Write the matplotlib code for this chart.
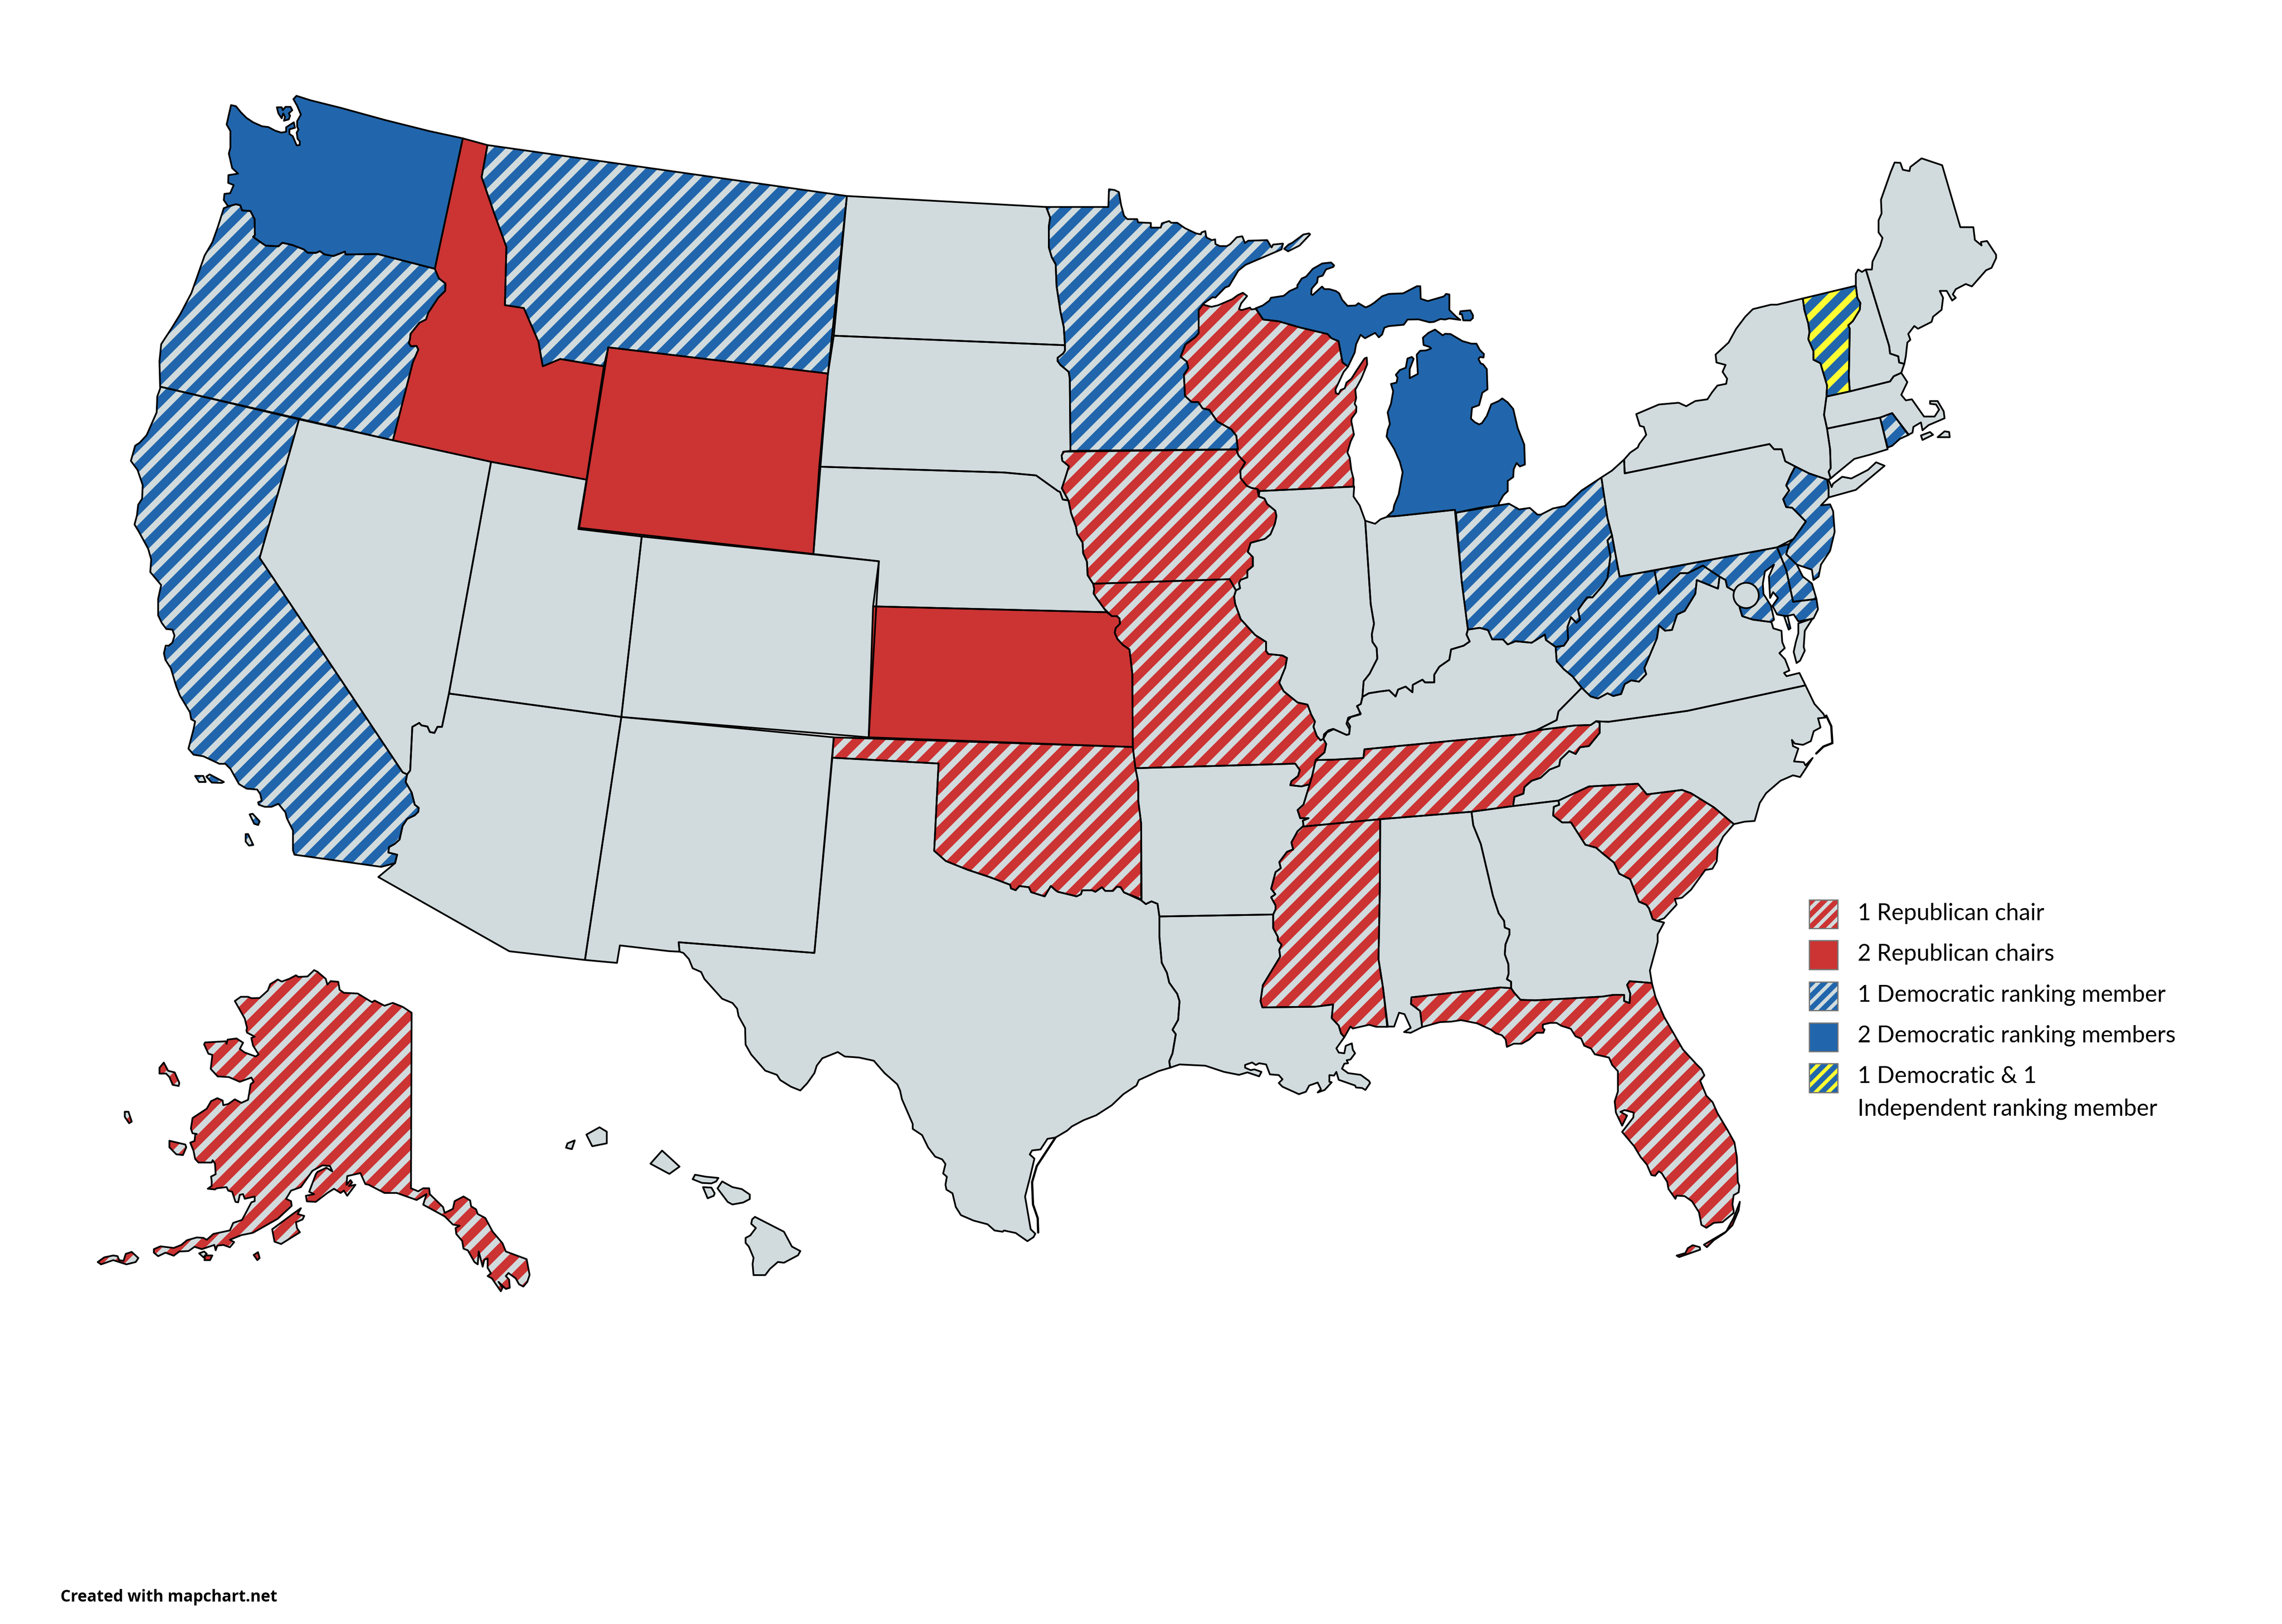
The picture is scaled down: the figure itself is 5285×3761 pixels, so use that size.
import matplotlib
matplotlib.use("Agg")
import matplotlib.pyplot as plt
from matplotlib.patches import Polygon, Circle, Rectangle

SCALE = 3.37
W, H = 5285, 3762
DPI = 300  # hatch pitch is dpi / 6 pixels with '//'

RED = '#CC3333'
BLUE = '#2166AC'
GRAY = '#D1DBDD'
YELLOW = '#FFFF33'


def from_crop(pts, x0, y0, w, h):
    return [((x0 + px * w / 1568) / SCALE, (y0 + py * h / 1568) / SCALE) for px, py in pts]

def ne(pts):
    return from_crop(pts, 3600, 300, 1100, 1250)

def mi(pts):
    return from_crop(pts, 2900, 550, 800, 700)

def ak(pts):
    return from_crop(pts, 100, 2200, 1200, 850)

def nw(pts):
    return from_crop(pts, 280, 200, 800, 800)

def sw(pts):
    return from_crop(pts, 280, 900, 1100, 1100)

def gulf(pts):
    return from_crop(pts, 1550, 2050, 1700, 900)

def fla(pts):
    return from_crop(pts, 3200, 2150, 900, 900)

def se(pts):
    return from_crop(pts, 3000, 1350, 1300, 900)

def mid(pts):
    return from_crop(pts, 2450, 1000, 800, 1100)

def lakes(pts):
    return from_crop(pts, 2400, 400, 800, 700)


WA = nw([(500, 87), (522, 92), (545, 120), (570, 145), (600, 165), (640, 183), (670, 187), (700, 203), (728, 212), (750, 208), (750, 188), (785, 165),
         (790, 190), (765, 197), (765, 218), (780, 228), (798, 270), (812, 268), (812, 252), (802, 240), (798, 212), (806, 198), (800, 185), (800, 160),
         (817, 130), (800, 90), (783, 60), (797, 45), (860, 65), (1000, 100), (1200, 155), (1400, 205), (1552, 238), (1425, 830), (1165, 763), (1020, 765),
         (1017, 752), (965, 772), (925, 765), (903, 750), (885, 758), (848, 757), (830, 742), (778, 722), (733, 712), (715, 728), (657, 725), (625, 703),
         (600, 685), (608, 678), (607, 605), (588, 568), (550, 565), (542, 542), (522, 537), (487, 547), (467, 518), (470, 490), (496, 487), (512, 450),
         (487, 440), (488, 405), (532, 398), (505, 373), (490, 307), (497, 280), (497, 205), (480, 175)])
WA_ISLAND = nw([(708, 97), (730, 97), (735, 110), (747, 95), (770, 95), (778, 110), (762, 125), (768, 135), (762, 152), (740, 158), (745, 140), (737, 125),
                (730, 147), (715, 125)])
OR = nw([(467, 555), (487, 547), (522, 537), (542, 542), (550, 565), (588, 568), (607, 605), (608, 678), (600, 685), (625, 703), (657, 725), (715, 728),
         (733, 712), (778, 722), (830, 742), (848, 757), (885, 758), (903, 750), (925, 765), (965, 772), (1017, 752), (1020, 765), (1165, 763), (1425, 830),
         (1443, 873), (1473, 897), (1472, 930), (1440, 962), (1395, 1030), (1385, 1060), (1355, 1075), (1315, 1125), (1312, 1150), (1307, 1167), (1317, 1182),
         (1342, 1180), (1350, 1197), (1325, 1255)]) + sw([(898, 172)]) + \
     nw([(178, 1365), (175, 1250), (183, 1172), (230, 1100), (270, 1035), (320, 940), (380, 770), (415, 710), (440, 640)])
CA = nw([(178, 1365)]) + sw([(588, 103), (458, 560), (930, 1268), (945, 1275), (940, 1300), (960, 1335), (970, 1375), (983, 1385), (982, 1398), (970, 1410),
                             (945, 1422), (930, 1445), (920, 1490), (903, 1505), (885, 1515), (883, 1533), (912, 1540), (905, 1568)]) + [(262, 596)] + \
     sw([(573, 1540), (568, 1525), (568, 1460), (548, 1420), (543, 1400), (520, 1372), (497, 1382), (475, 1382), (455, 1375), (453, 1367), (465, 1362), (460, 1340),
         (450, 1325), (415, 1322), (390, 1307), (362, 1257), (345, 1240), (325, 1240), (272, 1215), (240, 1210), (223, 1190), (240, 1125), (245, 1100), (232, 1093),
         (228, 1070), (195, 1015), (183, 985), (165, 925), (147, 897), (142, 875), (148, 850), (158, 850), (170, 840), (177, 817), (170, 797), (150, 795), (135, 775),
         (123, 750), (123, 695), (133, 650), (97, 607), (100, 565), (90, 530), (60, 475), (45, 450), (53, 420), (57, 385), (70, 365), (72, 320), (55, 270), (33, 240),
         (47, 190), (62, 180), (85, 155), (118, 80), (120, 28), (130, 0)])
CA_ISLANDS = [sw([(245, 1280), (272, 1280), (280, 1300), (258, 1300)]), sw([(282, 1282), (293, 1275), (340, 1300), (333, 1303), (300, 1302)]),
              sw([(425, 1407), (435, 1405), (458, 1430), (453, 1442), (440, 1438)]), sw([(412, 1472), (420, 1472), (437, 1508), (423, 1510), (412, 1497)])]
ID = [(335, 100), (331, 122), (340, 148), (348, 170), (347, 210), (360, 212), (370, 235), (373, 252), (385, 247), (415, 252)] + \
     sw([(1537, 302), (1222, 243), (898, 172)]) + \
     nw([(1325, 1255), (1350, 1197), (1342, 1180), (1317, 1182), (1307, 1167), (1312, 1150), (1315, 1125), (1355, 1075), (1385, 1060), (1395, 1030), (1440, 962),
         (1472, 930), (1473, 897), (1443, 873), (1425, 830), (1552, 238)])
MT = [(335, 100), (582, 135), (569, 257), (418, 239), (415, 252), (385, 247), (373, 252), (370, 235), (360, 212), (347, 210), (348, 170), (340, 148), (331, 122)]
WY = [(418, 239), (569, 257), (559, 381), (398, 363)]
ND = lakes([(45, 180), (63, 235), (57, 280), (57, 390), (70, 440), (88, 478), (92, 590), (110, 725), (125, 805), (130, 897)]) + [(573, 231), (582, 135)]
SD = [(573, 231)] + lakes([(130, 897), (130, 925), (122, 940), (97, 962), (97, 980), (110, 1000), (147, 1035), (152, 1070), (155, 1445)]) + \
     mid([(25, 67), (17, 80), (20, 97), (50, 115), (35, 150), (18, 188), (48, 228), (22, 225), (10, 200), (0, 197)]) + [(712, 327), (690, 325), (563, 321), (569, 257)]
NE_ = [(563, 321), (690, 325), (712, 327)] + \
      mid([(0, 197), (10, 200), (22, 225), (48, 228), (60, 270), (82, 315), (88, 340), (112, 367), (115, 403), (132, 430), (135, 475), (160, 503), (165, 520),
           (162, 535), (175, 550), (210, 585), (222, 597)]) + [(600, 417), (604, 386), (559, 381)]
KS = [(600, 417)] + mid([(222, 597), (245, 610), (268, 610), (280, 618), (282, 635), (262, 650), (258, 665), (270, 685), (295, 705), (325, 720), (338, 800), (340, 1042)]) + [(597, 507)]
OK = [(573, 507)] + mid([(340, 1042), (352, 1112), (365, 1160), (365, 1220), (378, 1295), (380, 1545), (300, 1522), (285, 1505), (268, 1503), (250, 1517), (215, 1517),
                         (200, 1505), (170, 1520), (155, 1515), (110, 1515), (105, 1528), (85, 1535), (0, 1520)]) + \
     gulf([(825, 22), (815, 5), (802, 47), (773, 30), (768, 10), (748, 5), (740, 22), (730, 15), (728, 0)]) + [(680, 603), (665, 598), (650, 592), (642, 585), (645, 525), (572, 521)]
TX = [(572, 521), (645, 525), (642, 585), (650, 592), (665, 598), (680, 603)] + \
     gulf([(728, 0), (730, 15), (740, 22), (748, 5), (768, 10), (773, 30), (802, 47), (815, 5), (825, 22)]) + \
     mid([(0, 1520), (85, 1535), (105, 1528), (110, 1515), (155, 1515), (170, 1520), (200, 1505), (215, 1517), (250, 1517), (268, 1503), (285, 1505), (300, 1522), (378, 1548)]) + \
     gulf([(1018, 78), (1030, 67), (1043, 77), (1047, 128), (1047, 210), (1052, 315), (1063, 355), (1068, 395), (1085, 440), (1090, 470), (1087, 545), (1075, 585), (1082, 603),
           (1075, 680), (1068, 712), (1070, 738), (1045, 752), (1003, 788), (998, 810), (970, 845), (945, 890), (912, 930), (885, 950), (860, 975), (850, 992), (825, 1020),
           (808, 1025), (793, 1068), (775, 1072), (770, 1088), (780, 1105), (770, 1185), (760, 1258), (772, 1390), (782, 1408), (778, 1422), (765, 1438), (740, 1405), (715, 1395),
           (712, 1400), (695, 1395), (680, 1370), (650, 1355), (623, 1333), (612, 1300), (605, 1245), (592, 1230), (590, 1210), (593, 1178), (585, 1165), (590, 1127), (583, 1108),
           (568, 1097), (553, 1060), (540, 1010), (520, 985), (520, 965), (497, 865), (493, 830), (487, 805), (460, 760), (447, 732), (437, 710), (405, 697), (375, 693), (360, 675),
           (327, 700), (315, 730), (310, 760), (295, 800), (280, 830), (260, 815), (237, 788), (230, 767), (205, 750), (175, 685), (163, 645), (162, 578), (148, 530), (145, 500),
           (135, 477), (113, 460), (75, 380), (68, 352), (50, 337), (42, 300), (30, 275), (22, 270), (20, 232), (310, 275)])
NM = [(427, 493), (573, 507)] + gulf([(310, 275), (20, 232), (22, 270), (0, 268)]) + [(426, 650), (424, 662), (402, 660)]
AZ = sw([(1083, 1008)]) + [(427, 493), (402, 660), (350, 654), (260, 603)] + \
     sw([(905, 1568), (912, 1540), (883, 1533), (885, 1515), (903, 1505), (920, 1490), (930, 1445), (945, 1422), (970, 1410), (982, 1398), (983, 1385), (970, 1375), (960, 1335),
         (940, 1300), (945, 1275), (955, 1262), (962, 1118), (985, 1105), (992, 1113), (1012, 1117), (1020, 1135), (1035, 1138), (1045, 1118), (1060, 1118)])
NV = sw([(588, 103), (898, 172), (1222, 243), (1083, 1008), (1060, 1118), (1045, 1118), (1035, 1138), (1020, 1135), (1012, 1117), (992, 1113), (985, 1105), (962, 1118),
         (955, 1262), (945, 1275), (930, 1268), (458, 560)])
UT = sw([(1222, 243), (1537, 302), (1510, 465)]) + [(441, 369), (427, 493)] + sw([(1083, 1008)])
CO = [(441, 369), (604, 386), (597, 507), (427, 493)]
MN = lakes([(45, 180), (327, 180), (330, 88), (355, 92), (375, 103), (385, 170), (398, 225), (413, 243), (458, 243), (462, 260), (520, 263), (520, 287), (565, 287), (570, 265),
            (603, 253), (612, 262), (640, 262), (675, 290), (725, 317), (747, 322), (750, 312), (767, 305), (772, 338), (797, 352), (812, 348), (813, 372), (833, 383), (865, 383),
            (880, 373), (910, 337), (935, 332), (947, 367), (962, 355), (1048, 352), (1068, 390), (1075, 375), (1120, 370), (1113, 400), (950, 480), (917, 510), (875, 590), (857, 598),
            (813, 650), (800, 648), (760, 680), (737, 715), (737, 835), (722, 855), (677, 893), (655, 957), (683, 982), (690, 1015), (670, 1050), (675, 1160), (705, 1192), (735, 1192),
            (755, 1225), (785, 1232), (822, 1293), (885, 1333), (908, 1367), (915, 1437), (155, 1445), (152, 1070), (147, 1035), (110, 1000), (97, 980), (97, 962), (122, 940), (130, 925),
            (130, 897), (125, 805), (110, 725), (92, 590), (88, 478), (70, 440), (57, 390), (57, 280), (63, 235)])
MN_ISLAND = lakes([(1125, 397), (1145, 375), (1163, 365), (1212, 323), (1238, 317), (1243, 322), (1195, 380), (1143, 410)])
IA = mid([(25, 67), (810, 60), (820, 80), (850, 103), (828, 130), (830, 155), (858, 180), (880, 187), (905, 190), (912, 215), (938, 222), (950, 240), (987, 262), (992, 280), (985, 305),
          (965, 340), (940, 355), (875, 368), (862, 398), (885, 415), (885, 445), (860, 460), (860, 482), (830, 490), (822, 500), (827, 518), (808, 525), (780, 488), (160, 503), (135, 475),
          (132, 430), (115, 403), (112, 367), (88, 340), (82, 315), (60, 270), (48, 228), (18, 188), (35, 150), (50, 115), (20, 97), (17, 80)])
MO = mid([(160, 503), (780, 488), (808, 525), (800, 545), (805, 570), (830, 620), (895, 672), (945, 695), (945, 725), (955, 735), (1020, 740), (1040, 748), (1032, 780), (1015, 810),
          (1005, 830), (1025, 858), (1088, 895), (1133, 902), (1150, 935), (1167, 958), (1160, 975), (1175, 1005), (1192, 1020), (1205, 1015), (1218, 1032), (1210, 1060), (1170, 1085),
          (1155, 1135), (1143, 1165), (1105, 1172), (1055, 1168), (1060, 1155), (1090, 1138), (1098, 1118), (1078, 1097), (352, 1112), (340, 1042), (338, 800), (325, 720), (295, 705),
          (270, 685), (258, 665), (262, 650), (282, 635), (280, 618), (268, 610), (245, 610), (210, 585), (175, 550), (162, 535), (165, 520)])
AR = mid([(352, 1112), (1078, 1097), (1098, 1118), (1090, 1138), (1060, 1155), (1055, 1168), (1105, 1172), (1143, 1165), (1115, 1232), (1088, 1250), (1100, 1277), (1138, 1277), (1112, 1285),
          (1115, 1303), (1088, 1320), (1060, 1357), (1068, 1380), (1040, 1388), (1005, 1422), (1012, 1442), (988, 1455), (968, 1510), (987, 1528), (968, 1538), (988, 1565)]) + \
     gulf([(1295, 100), (1290, 120), (1047, 128), (1043, 77), (1030, 67), (1018, 78)]) + mid([(378, 1548), (378, 1295), (365, 1220), (365, 1160)])
LA = gulf([(1047, 128), (1290, 120), (1290, 175), (1300, 210), (1300, 225), (1308, 242), (1303, 262), (1305, 290), (1268, 405), (1263, 470), (1267, 495), (1380, 492), (1418, 483), (1415, 538),
           (1430, 568), (1435, 600), (1442, 615), (1425, 660), (1430, 677), (1442, 680), (1445, 650), (1458, 640), (1460, 665), (1465, 680), (1455, 705), (1447, 708), (1450, 720), (1442, 722),
           (1437, 742), (1450, 760), (1477, 767), (1495, 792), (1497, 800), (1487, 828), (1480, 820), (1467, 818), (1465, 810), (1430, 787), (1425, 755), (1420, 770), (1410, 768), (1410, 795),
           (1415, 797), (1400, 828), (1385, 838), (1392, 825), (1385, 798), (1367, 810), (1360, 835), (1345, 845), (1310, 815), (1302, 800), (1310, 785), (1302, 768), (1283, 765), (1275, 725),
           (1260, 720), (1253, 727), (1245, 717), (1230, 727), (1230, 738), (1242, 748), (1250, 745), (1265, 755), (1260, 773), (1235, 757), (1217, 767), (1185, 755), (1145, 730), (1090, 725),
           (1070, 738), (1068, 712), (1075, 680), (1082, 603), (1075, 585), (1087, 545), (1090, 470), (1085, 440), (1068, 395), (1063, 355), (1052, 315), (1047, 210)])
MS = se([(20, 985), (237, 955)]) + \
     gulf([(1518, 0), (1515, 300), (1525, 420), (1535, 573), (1510, 573), (1495, 565), (1460, 580), (1455, 572), (1442, 615), (1435, 600), (1430, 568), (1415, 538), (1418, 483), (1380, 492),
           (1267, 495), (1263, 470), (1268, 405), (1305, 290), (1303, 262), (1308, 242), (1300, 225), (1300, 210), (1290, 175), (1290, 120), (1295, 100)]) + \
     mid([(988, 1565), (968, 1538), (987, 1528), (968, 1510), (988, 1455), (1012, 1442), (1005, 1422), (1040, 1388), (1068, 1380), (1060, 1357), (1088, 1320)])
TN = mid([(1170, 1085), (1155, 1135), (1143, 1165), (1115, 1232), (1088, 1250), (1100, 1277), (1138, 1277), (1112, 1285), (1115, 1303)]) + \
     se([(20, 985), (237, 955), (492, 925), (608, 902), (612, 865), (637, 852), (640, 825), (660, 800), (685, 788), (710, 755), (737, 740), (740, 715), (765, 680), (783, 692), (795, 665), (820, 660),
         (850, 607), (850, 565), (840, 560), (825, 575), (780, 577), (672, 597), (630, 612), (193, 673), (190, 708), (105, 715)])
KY = mid([(1205, 1015), (1218, 1032), (1210, 1060), (1170, 1085)]) + \
     se([(105, 715), (190, 708), (193, 673), (630, 612), (672, 597), (730, 555), (735, 520), (800, 425), (775, 380), (750, 350), (730, 318), (727, 260), (700, 232), (697, 210), (660, 243), (615, 237),
         (593, 250), (580, 230), (550, 230), (538, 192), (515, 183), (482, 190), (478, 210), (487, 238), (470, 255), (435, 270), (430, 312), (402, 340), (388, 372), (388, 403), (362, 403), (355, 392),
         (328, 413), (327, 443), (308, 420), (287, 432), (280, 460), (262, 435), (235, 440), (205, 447), (187, 462), (183, 490), (173, 498), (182, 532), (155, 543), (145, 560), (153, 580), (150, 612),
         (143, 615), (107, 592), (88, 605)])
NC = se([(840, 560), (875, 562), (1095, 518), (1425, 415), (1450, 490), (1475, 530), (1480, 545), (1460, 548), (1467, 585), (1448, 600), (1440, 640), (1418, 655), (1395, 650), (1387, 635), (1390, 660),
         (1405, 670), (1393, 722), (1420, 725), (1425, 738), (1445, 708), (1410, 785), (1390, 778), (1355, 800), (1315, 850), (1297, 890), (1283, 962), (1255, 965), (1225, 975), (1170, 908), (1105, 850),
         (1080, 837), (982, 855), (957, 812), (820, 823), (735, 880), (608, 902), (612, 865), (637, 852), (640, 825), (660, 800), (685, 788), (710, 755), (737, 740), (740, 715), (765, 680), (783, 692),
         (795, 665), (820, 660), (850, 607), (850, 565)])
SC = se([(735, 880), (820, 823), (957, 812), (982, 855), (1080, 837), (1105, 850), (1170, 908), (1225, 975), (1195, 1025), (1180, 1070), (1177, 1125), (1165, 1155), (1145, 1160), (1105, 1240), (1080, 1272),
         (1060, 1277), (1065, 1300), (1030, 1355), (1010, 1365), (998, 1358), (988, 1315), (980, 1300), (960, 1288), (935, 1197), (905, 1175), (890, 1130), (860, 1095), (840, 1070), (810, 1058), (770, 968),
         (745, 968), (720, 940), (722, 905), (737, 897)])
GA = se([(492, 925), (608, 902), (735, 880), (737, 897), (722, 905), (720, 940), (745, 968), (770, 968), (810, 1058), (840, 1070), (860, 1095), (890, 1130), (905, 1175), (935, 1197), (960, 1288), (980, 1300),
         (988, 1315), (998, 1358), (1010, 1365), (1030, 1372), (1012, 1420), (1012, 1450)]) + \
     fla([(1082, 172), (1090, 222), (1000, 215), (990, 230), (1003, 265), (1000, 303), (978, 295), (978, 270), (935, 270), (890, 277), (620, 292), (560, 290), (535, 262), (522, 243), (522, 217), (505, 207), (512, 185)]) + \
     se([(595, 1540), (585, 1500), (587, 1460), (598, 1420), (598, 1400), (585, 1392), (583, 1365), (568, 1335), (552, 1265), (540, 1190), (518, 1055), (497, 980)])
AL = se([(237, 955), (492, 925), (497, 980), (518, 1055), (540, 1190), (552, 1265), (568, 1335), (583, 1365), (585, 1392), (598, 1400), (598, 1420), (587, 1460), (585, 1500), (595, 1540)]) + \
     fla([(512, 185), (505, 207), (522, 217), (522, 243), (478, 240), (120, 280), (118, 307), (155, 335), (163, 400), (117, 423), (90, 420), (117, 403), (92, 348), (70, 342), (50, 398), (22, 398)]) + \
     gulf([(1525, 420), (1515, 300), (1518, 0)])
FL = fla([(120, 280), (478, 240), (522, 243), (535, 262), (560, 290), (620, 292), (890, 277), (935, 270), (978, 270), (978, 295), (1000, 303), (1003, 265), (990, 230), (1000, 215), (1090, 222), (1105, 280),
          (1140, 360), (1215, 490), (1270, 550), (1290, 570), (1302, 595), (1285, 617), (1310, 677), (1335, 703), (1355, 748), (1395, 815), (1423, 865), (1433, 925), (1437, 1025), (1443, 1040), (1440, 1067),
          (1420, 1078), (1415, 1115), (1420, 1140), (1420, 1150), (1375, 1187), (1340, 1190), (1310, 1210), (1290, 1198), (1280, 1147), (1252, 1103), (1222, 1082), (1190, 1080), (1185, 1093), (1157, 1053),
          (1152, 1025), (1130, 990), (1118, 982), (1103, 1000), (1088, 997), (1070, 955), (1045, 925), (1018, 880), (970, 823), (1015, 765), (1017, 745), (980, 735), (963, 742), (990, 757), (970, 798), (945, 745),
          (940, 700), (953, 660), (953, 578), (930, 553), (917, 523), (860, 510), (845, 487), (817, 475), (805, 447), (782, 437), (763, 407), (725, 395), (705, 383), (680, 383), (650, 390), (650, 405), (657, 410),
          (652, 423), (625, 423), (595, 450), (565, 467), (533, 467), (505, 480), (500, 450), (485, 433), (460, 425), (440, 410), (385, 385), (320, 372), (280, 378), (235, 380), (163, 400), (155, 335), (118, 307)])
FL_KEYS = [fla([(1190, 1322), (1225, 1312), (1235, 1292), (1255, 1280), (1283, 1288), (1285, 1298), (1200, 1328)]),
           fla([(1300, 1278), (1390, 1225), (1420, 1170), (1445, 1105), (1440, 1140), (1415, 1200), (1385, 1230), (1340, 1260), (1312, 1288)])]
WI = lakes([(762, 688), (795, 698), (825, 690), (890, 658), (915, 637), (938, 625), (957, 642), (930, 680), (920, 710), (932, 715), (970, 702), (977, 712), (997, 708)]) + \
     mi([(50, 428), (120, 437), (220, 470), (342, 503), (360, 525), (392, 540), (410, 650), (435, 672), (415, 700), (378, 790), (380, 810), (392, 815), (402, 793), (420, 785), (428, 755), (450, 735), (475, 690),
         (510, 630), (520, 625), (522, 660), (495, 735), (468, 792), (472, 835), (465, 865), (473, 880), (472, 908), (452, 940), (450, 955), (462, 1025), (447, 1060), (432, 1118), (443, 1145), (450, 1210), (460, 1255), (460, 1295)]) + \
     mid([(915, 197), (905, 190), (880, 187), (858, 180), (830, 155), (828, 130), (850, 103), (820, 80), (810, 60)]) + \
     lakes([(915, 1437), (908, 1367), (885, 1333), (822, 1293), (785, 1232), (755, 1225), (735, 1192), (705, 1192), (675, 1160), (670, 1050), (690, 1015), (683, 982), (655, 957), (677, 893), (722, 855), (737, 835), (737, 715), (760, 680)])
MI_UP = mi([(15, 370), (50, 428), (120, 437), (220, 470), (342, 503), (360, 525), (392, 540), (410, 650), (435, 672), (465, 600), (472, 555), (492, 507), (512, 525), (558, 497), (575, 520), (590, 505), (600, 470), (620, 462),
            (688, 455), (705, 428), (755, 427), (805, 442), (825, 440), (855, 425), (875, 428), (895, 422), (945, 430), (925, 412), (895, 378), (895, 298), (880, 295), (870, 308), (797, 332), (765, 320), (763, 255), (748, 255),
            (685, 292), (620, 295), (590, 307), (555, 340), (535, 355), (515, 365), (482, 343), (470, 355), (433, 357), (408, 325), (395, 292), (380, 280), (350, 270), (328, 270), (317, 257), (275, 300), (268, 297), (270, 268),
            (295, 235), (298, 208), (320, 200), (335, 168), (368, 155), (372, 147), (358, 132), (318, 137), (275, 165), (245, 205), (225, 215), (205, 250), (205, 262), (170, 280), (143, 305), (85, 315), (78, 330), (48, 355)])
MI_DRUMMOND = mi([(945, 385), (990, 380), (1002, 405), (1002, 420), (990, 433), (958, 432), (952, 400), (942, 400)])
MI_LP = mi([(830, 480), (865, 510), (875, 502), (900, 503), (955, 540), (995, 553), (1018, 553), (1033, 585), (1052, 607), (1050, 625), (1035, 622), (1027, 632), (1037, 655), (1048, 660), (1065, 685), (1068, 790), (1045, 807),
            (1030, 872), (998, 885), (993, 942), (1010, 960), (1030, 972), (1043, 965), (1065, 928), (1085, 868), (1120, 850), (1135, 837), (1160, 858), (1185, 892), (1205, 990), (1235, 1077), (1238, 1180), (1215, 1190), (1200, 1172),
            (1187, 1205), (1185, 1245), (1160, 1265), (1160, 1318), (1140, 1340), (1120, 1380), (1120, 1390), (1030, 1405), (925, 1430), (920, 1415), (660, 1447), (612, 1450), (640, 1420), (645, 1390), (665, 1335), (683, 1220), (670, 1165),
            (645, 1100), (610, 1035), (615, 1000), (625, 970), (615, 910), (630, 865), (640, 800), (630, 762), (655, 755), (660, 730), (652, 715), (670, 690), (697, 678), (705, 630), (725, 622), (733, 632), (715, 685), (715, 732), (752, 710),
            (747, 610), (762, 590), (790, 588), (812, 578), (805, 570), (778, 560), (775, 522), (800, 497)])
IL = mid([(915, 197), (1345, 182), (1342, 215), (1370, 245), (1395, 295), (1420, 570), (1435, 635), (1425, 670), (1428, 695), (1447, 715), (1450, 750), (1415, 800), (1388, 825), (1382, 880), (1375, 900), (1357, 907), (1375, 932), (1318, 945),
          (1310, 965), (1325, 985), (1322, 1000), (1310, 1002), (1250, 982), (1228, 987), (1208, 1000), (1205, 1015), (1192, 1020), (1175, 1005), (1160, 975), (1167, 958), (1150, 935), (1133, 902), (1088, 895), (1025, 858), (1005, 830), (1015, 810),
          (1032, 780), (1040, 748), (1020, 740), (955, 735), (945, 725), (945, 695), (895, 672), (830, 620), (805, 570), (800, 545), (808, 525), (827, 518), (822, 500), (830, 490), (860, 482), (860, 460), (885, 445), (885, 415), (862, 398), (875, 368),
          (940, 355), (965, 340), (985, 305), (992, 280), (987, 262), (950, 240), (938, 222), (912, 215)])
IN = mid([(1395, 295), (1440, 305), (1465, 290), (1495, 282)]) + mi([(660, 1447), (920, 1415)]) + \
     se([(465, 0), (482, 190), (478, 210), (487, 238), (470, 255), (435, 270), (430, 312), (402, 340), (388, 372), (388, 403), (362, 403), (355, 392), (328, 413), (327, 443), (308, 420), (287, 432), (280, 460), (262, 435), (235, 440), (205, 447), (187, 462)]) + \
     mid([(1382, 880), (1388, 825), (1415, 800), (1450, 750), (1447, 715), (1428, 695), (1425, 670), (1435, 635), (1420, 570)])
OH = mi([(925, 1430), (1165, 1383), (1212, 1413), (1260, 1405), (1295, 1440), (1310, 1440), (1365, 1408), (1420, 1395), (1495, 1315)]) + \
     ne([(155, 1012), (175, 1130), (190, 1180), (175, 1195), (185, 1240), (175, 1305)]) + \
     se([(860, 10), (830, 60), (815, 60), (790, 110), (795, 150), (785, 163), (770, 140), (760, 180), (762, 230), (750, 255), (727, 260), (700, 232), (697, 210), (660, 243), (615, 237), (593, 250), (580, 230), (550, 230), (538, 192), (515, 183), (482, 190), (465, 0)])
WV = ne([(175, 1195), (190, 1180), (215, 1300), (330, 1282), (345, 1350), (385, 1315), (415, 1290), (440, 1290), (490, 1268), (545, 1300), (540, 1335), (470, 1310), (465, 1350), (430, 1400), (405, 1410), (388, 1455), (365, 1457), (345, 1442)]) + \
     se([(1010, 225), (975, 345), (980, 370), (960, 400), (938, 395), (920, 410), (910, 450), (888, 458), (872, 447), (845, 468), (825, 460), (800, 425), (775, 380), (750, 350), (730, 318), (727, 260), (750, 255), (762, 230), (760, 180), (770, 140), (785, 163), (795, 150), (790, 110), (815, 60), (830, 60), (860, 10)]) + \
     ne([(175, 1305), (185, 1240)])
VA = se([(672, 597), (730, 555), (735, 520), (800, 425), (825, 460), (845, 468), (872, 447), (888, 458), (910, 450), (920, 410), (938, 395), (960, 400), (980, 370), (975, 345), (1010, 225)]) + \
     ne([(345, 1442), (365, 1457), (388, 1455), (405, 1410), (430, 1400), (465, 1350), (470, 1310), (540, 1335), (545, 1300), (565, 1310), (570, 1330), (600, 1345), (613, 1395), (620, 1415), (655, 1425), (715, 1432)]) + \
     se([(1330, 160), (1335, 185), (1358, 195), (1360, 240), (1367, 265), (1352, 285), (1368, 310), (1380, 355), (1365, 365), (1372, 378), (1408, 365), (1425, 415), (1095, 518), (875, 562), (840, 560), (825, 575), (780, 577)])
VA_SHORE = se([(1405, 165), (1445, 145), (1423, 195), (1420, 260), (1423, 275), (1410, 315), (1400, 325), (1392, 280), (1398, 240), (1405, 205)])
MD = ne([(330, 1282), (735, 1215), (765, 1280), (788, 1373), (865, 1365), (870, 1395), (855, 1422), (805, 1430), (790, 1410), (765, 1415), (735, 1410), (720, 1385), (738, 1362), (722, 1345), (712, 1362), (708, 1300), (725, 1265), (695, 1285), (688, 1320),
         (690, 1350), (715, 1385), (725, 1425), (715, 1432), (655, 1425), (620, 1415), (613, 1395), (600, 1345), (570, 1330), (565, 1310), (545, 1300), (490, 1268), (440, 1290), (415, 1290), (385, 1315), (345, 1350)])
MD_ISLAND = se([(1365, 135), (1375, 135), (1383, 185), (1378, 190)])
DE = ne([(735, 1215), (775, 1205), (765, 1235), (800, 1265), (820, 1300), (850, 1320), (865, 1365), (788, 1373), (765, 1280)])
NJ = ne([(795, 980), (840, 1000), (900, 1018), (905, 1040), (905, 1070), (880, 1093), (910, 1090), (920, 1110), (925, 1170), (910, 1225), (880, 1265), (872, 1300), (855, 1310), (850, 1280), (800, 1265), (765, 1235), (775, 1205), (790, 1190), (830, 1140),
         (785, 1100), (765, 1098), (755, 1075), (775, 1050), (765, 1035), (780, 1005)])
PA = ne([(155, 1012), (190, 992), (230, 960), (232, 1000), (710, 915), (725, 930), (750, 930), (762, 965), (795, 980), (780, 1005), (765, 1035), (775, 1050), (755, 1075), (765, 1098), (785, 1100), (830, 1140), (790, 1190), (735, 1215), (215, 1300), (190, 1180), (175, 1130)])
NY = ne([(820, 492), (735, 510), (715, 510), (655, 523), (630, 545), (600, 580), (575, 620), (532, 655), (535, 678), (565, 685), (555, 705), (570, 725), (567, 740), (538, 745), (520, 765), (505, 785), (465, 790), (435, 805), (410, 795), (345, 800), (270, 828), (282, 862),
         (295, 865), (303, 888), (280, 915), (275, 925), (250, 940), (230, 960), (232, 1000), (710, 915), (725, 930), (750, 930), (762, 965), (795, 980), (840, 1000), (900, 1018), (905, 1040), (905, 1070), (995, 1048), (1090, 978), (1062, 968), (1035, 990), (980, 1015),
         (950, 1010), (920, 1030), (915, 1040), (905, 1018), (912, 1015), (905, 995), (912, 985), (910, 930), (900, 870), (890, 830), (898, 777), (900, 745), (878, 680), (855, 670), (855, 645), (838, 610), (842, 590), (838, 565), (825, 525)])
CT = ne([(900, 870), (1075, 838), (1100, 930), (1045, 945), (990, 958), (925, 1005), (912, 1015), (905, 995), (912, 985), (910, 930)])
RI = ne([(1075, 838), (1115, 825), (1170, 888), (1140, 900), (1115, 920), (1100, 925)])
MA = ne([(898, 777), (975, 762), (1108, 733), (1120, 718), (1145, 708), (1165, 735), (1145, 772), (1160, 788), (1180, 785), (1220, 835), (1255, 835), (1270, 815), (1260, 800), (1240, 798), (1240, 790), (1265, 790), (1285, 820), (1288, 840), (1235, 860), (1215, 875),
         (1210, 852), (1185, 865), (1182, 882), (1168, 888), (1115, 825), (1075, 838), (900, 870), (890, 830)])
MA_ISLANDS = [ne([(1210, 890), (1240, 880), (1250, 888), (1215, 903)]), ne([(1265, 895), (1288, 878), (1303, 880), (1305, 895)])]
VT = ne([(995, 455), (820, 492), (825, 525), (838, 565), (842, 590), (838, 610), (855, 645), (855, 670), (878, 680), (900, 745), (898, 777), (975, 762), (972, 720), (975, 580), (970, 570), (985, 558), (1008, 525), (1010, 505), (1000, 490)])
NH = ne([(1028, 408), (1015, 415), (1003, 408), (995, 420), (995, 455), (1000, 490), (1010, 505), (1008, 525), (985, 558), (970, 570), (975, 580), (972, 720), (975, 762), (1108, 733), (1120, 718), (1145, 708), (1155, 682), (1138, 678), (1135, 660), (1108, 652), (1105, 630)])
ME = ne([(1028, 408), (1048, 408), (1050, 385), (1075, 340), (1083, 316), (1070, 300), (1070, 265), (1080, 245), (1078, 205), (1110, 125), (1123, 97), (1142, 98), (1150, 118), (1172, 122), (1175, 110), (1212, 85), (1280, 105), (1340, 285), (1383, 285), (1388, 322), (1410, 338),
         (1408, 328), (1428, 325), (1458, 365), (1458, 375), (1443, 403), (1425, 410), (1378, 457), (1358, 450), (1325, 465), (1315, 480), (1325, 490), (1313, 498), (1295, 470), (1272, 470), (1283, 490), (1278, 525), (1250, 545), (1245, 560), (1200, 580), (1188, 572), (1168, 595),
         (1175, 612), (1165, 620), (1160, 660), (1155, 682), (1138, 678), (1135, 660), (1108, 652), (1105, 630)])
AK_MAIN = ak([(580, 220), (598, 202), (620, 202), (630, 208), (655, 207), (680, 175), (687, 148), (710, 128), (722, 137), (745, 125), (765, 110), (772, 117), (800, 115), (820, 88), (830, 95), (855, 125), (860, 150), (870, 135), (893, 138), (897, 172), (910, 185), (952, 188),
              (995, 225), (1003, 218), (1033, 240), (1058, 228), (1088, 245), (1115, 270), (1113, 1020), (1135, 1033), (1150, 1020), (1168, 1020), (1170, 1045), (1210, 1100), (1215, 1125), (1240, 1108), (1245, 1075), (1272, 1055), (1292, 1072), (1295, 1097), (1310, 1110), (1315, 1130),
              (1338, 1147), (1360, 1205), (1390, 1255), (1400, 1290), (1463, 1323), (1472, 1390), (1465, 1420), (1453, 1440), (1440, 1430), (1430, 1405), (1408, 1382), (1400, 1395), (1410, 1410), (1412, 1445), (1400, 1450), (1378, 1420), (1390, 1445), (1385, 1460), (1370, 1430), (1358, 1405),
              (1345, 1395), (1355, 1383), (1345, 1360), (1345, 1320), (1335, 1325), (1330, 1355), (1318, 1290), (1315, 1345), (1305, 1335), (1285, 1285), (1272, 1278), (1268, 1245), (1250, 1215), (1248, 1190), (1260, 1180), (1240, 1175), (1215, 1140), (1150, 1090), (1160, 1045), (1130, 1070),
              (1070, 1040), (1033, 1040), (985, 1005), (975, 1002), (960, 955), (920, 968), (918, 1005), (930, 985), (935, 995), (925, 1010), (945, 1005), (920, 1052), (910, 1030), (900, 1040), (880, 1022), (860, 1040), (825, 1078), (798, 1076), (795, 1052), (820, 1045), (805, 1035), (825, 960),
              (830, 950), (857, 932), (875, 948), (868, 925), (845, 922), (815, 945), (780, 1015), (750, 1030), (735, 1065), (750, 1075), (752, 1095), (710, 1150), (635, 1210), (600, 1220), (565, 1240), (578, 1250), (565, 1272), (545, 1262), (527, 1265), (522, 1285), (518, 1262), (480, 1280),
              (458, 1270), (440, 1288), (412, 1290), (395, 1308), (370, 1295), (348, 1310), (335, 1295), (335, 1280), (355, 1268), (395, 1275), (418, 1262), (435, 1242), (465, 1230), (485, 1232), (495, 1240), (515, 1215), (565, 1200), (575, 1168), (602, 1155), (630, 1080), (640, 1075), (640, 1055),
              (610, 1065), (605, 1045), (595, 1048), (590, 1080), (582, 1078), (572, 1035), (560, 1030), (555, 1015), (525, 1020), (520, 1025), (498, 1022), (510, 1010), (510, 990), (508, 970), (522, 960), (520, 915), (513, 900), (510, 910), (470, 910), (460, 895), (455, 860), (445, 825), (458, 818),
              (460, 793), (465, 788), (452, 785), (447, 765), (452, 720), (495, 680), (508, 648), (527, 635), (543, 645), (545, 665), (560, 660), (580, 640), (600, 655), (620, 642), (628, 575), (637, 565), (630, 547), (595, 565), (562, 545), (528, 542), (507, 510), (512, 450), (500, 445), (487, 405),
              (490, 397), (553, 392), (555, 403), (558, 385), (585, 380), (605, 398), (595, 425), (610, 440), (643, 457), (652, 448), (635, 410), (630, 378), (640, 372), (617, 355), (615, 345), (617, 335), (610, 295)])
AK_ISLANDS = [ak([(352, 505), (365, 483), (378, 518), (398, 525), (412, 570), (410, 583), (392, 578), (382, 545), (372, 530), (352, 530)]),
              ak([(247, 693), (258, 693), (268, 735), (260, 742), (247, 715)]),
              ak([(382, 817), (430, 833), (433, 845), (423, 878), (403, 875), (382, 845)]),
              ak([(693, 1195), (755, 1130), (780, 1105), (770, 1130), (790, 1138), (785, 1153), (765, 1165), (768, 1190), (777, 1208), (720, 1258), (700, 1248)]),
              ak([(165, 1335), (185, 1315), (212, 1307), (225, 1310), (230, 1327), (243, 1330), (250, 1300), (268, 1292), (288, 1318), (280, 1335), (252, 1345), (212, 1327), (175, 1345)]),
              ak([(472, 1298), (487, 1290), (495, 1300), (485, 1315)]),
              ak([(490, 1307), (512, 1307), (505, 1327), (488, 1327)]),
              ak([(637, 1305), (650, 1293), (655, 1318), (648, 1327)])]
HI = [gulf([(183, 1340), (245, 1400), (262, 1460), (280, 1478), (275, 1495), (245, 1525), (232, 1522), (215, 1550), (205, 1575), (180, 1575), (178, 1530), (180, 1505), (170, 1460), (163, 1445), (163, 1425), (173, 1415), (185, 1385), (175, 1368), (177, 1350)]),
      gulf([(113, 1197), (135, 1220), (155, 1228), (172, 1250), (172, 1268), (158, 1282), (135, 1290), (125, 1280), (103, 1225)]),
      gulf([(55, 1170), (78, 1178), (105, 1183), (100, 1197), (90, 1205), (70, 1203), (50, 1188)]),
      gulf([(72, 1220), (90, 1222), (97, 1245), (95, 1255), (82, 1265)]),
      [(447, 800), (455, 791), (467, 802), (460, 807)],
      [(403, 780), (412, 775), (417, 778), (417, 786), (407, 788)],
      [(390, 786), (395, 784), (393, 790), (389, 789)]]
# barrier islands, drawn as plain lines
COAST_LINES = [gulf([(825, 1020), (785, 1135), (775, 1200), (777, 1290), (787, 1345), (788, 1403)]),
               se([(1483, 537), (1497, 580), (1500, 648), (1475, 662), (1455, 690)])]

GROUPS = {
    'none': [[ND], [SD], [NE_], [NV], [UT], [CO], [AZ], [NM], [TX], [AR], [LA], [IL], [IN], [KY], [VA, VA_SHORE], [NC], [GA], [AL],
             [PA], [NY], [CT], [MA] + MA_ISLANDS, [NH], [ME], HI],
    'rep1': [[WI], [IA], [MO], [OK], [TN], [MS], [SC], [FL] + FL_KEYS, [AK_MAIN] + AK_ISLANDS],
    'rep2': [[ID], [WY], [KS]],
    'dem1': [[OR], [CA] + CA_ISLANDS, [MT], [MN, MN_ISLAND], [OH], [WV], [MD, MD_ISLAND], [DE], [NJ], [RI]],
    'dem2': [[WA, WA_ISLAND], [MI_UP, MI_DRUMMOND, MI_LP]],
    'dem_ind': [[VT]],
}
LEGEND_KEYS = ['rep1', 'rep2', 'dem1', 'dem2', 'dem_ind']
LEGEND_LABELS = ['1 Republican chair', '2 Republican chairs', '1 Democratic ranking member', '2 Democratic ranking members', '1 Democratic & 1']
LEGEND_EXTRA_LINE = 'Independent ranking member'
# face, hatch
STYLES = {'none': (GRAY, None), 'rep1': (GRAY, RED), 'rep2': (RED, None), 'dem1': (GRAY, BLUE), 'dem2': (BLUE, None), 'dem_ind': (YELLOW, BLUE)}

plt.rcParams['hatch.linewidth'] = 5.0

fig = plt.figure(figsize=(W / DPI, H / DPI), dpi=DPI)
ax = fig.add_axes([0, 0, 1, 1])
ax.set_xlim(0, W / SCALE)
ax.set_ylim(H / SCALE, 0)
ax.axis('off')


def add_fill(pts, key, z=1):
    face, stripe = STYLES[key]
    if stripe:
        ax.add_patch(Polygon(pts, closed=True, facecolor=face, edgecolor=stripe, hatch='//', lw=0, zorder=z))
    else:
        ax.add_patch(Polygon(pts, closed=True, facecolor=face, edgecolor='none', lw=0, zorder=z))


for key, states in GROUPS.items():
    for parts in states:
        for pts in parts:
            add_fill(pts, key)
            ax.add_patch(Polygon(pts, closed=True, fill=False, edgecolor='black', lw=0.96, joinstyle='round', zorder=3))

# DC
ax.add_patch(Circle((1200, 409.5), 8.7, facecolor=GRAY, edgecolor='black', lw=0.96, zorder=4))

for line in COAST_LINES:
    ax.plot([p[0] for p in line], [p[1] for p in line], color='black', lw=1.25, zorder=3, solid_capstyle='round')

# the legend swatches have a finer stripe than the states, so no hatch here
SWATCH_X, SWATCH_SIZE, SWATCH_PITCH = 1243.3, 19.7, 8.6
swatch_y = [618.6, 646.7, 675, 703.2, 731.3]
text_y = [632.2, 660.2, 688.2, 716.2, 744.2]
for key, label, sy, ty in zip(LEGEND_KEYS, LEGEND_LABELS, swatch_y, text_y):
    face, stripe = STYLES[key]
    box = Rectangle((SWATCH_X, sy), SWATCH_SIZE, SWATCH_SIZE, facecolor=face, edgecolor='none', zorder=1)
    ax.add_patch(box)
    if stripe:
        for i in range(-3, 4):
            x0 = SWATCH_X + i * SWATCH_PITCH
            stripe_line, = ax.plot([x0, x0 + SWATCH_SIZE], [sy + SWATCH_SIZE, sy], color=stripe, lw=2.9, zorder=2)
            stripe_line.set_clip_path(box)
    ax.add_patch(Rectangle((SWATCH_X, sy), SWATCH_SIZE, SWATCH_SIZE, fill=False, edgecolor='#777777', lw=0.7, zorder=3))
    ax.text(1276.5, ty, label, ha='left', va='baseline', family='Lato', fontsize=12.86, color='black', zorder=5)
ax.text(1276.5, 766.7, LEGEND_EXTRA_LINE, ha='left', va='baseline', family='Lato', fontsize=12.86, color='black', zorder=5)

ax.text(41.5, 1100.5, 'Created with mapchart.net', ha='left', va='baseline', family='Open Sans', fontweight='bold', fontsize=8.93, color='black')

fig.savefig('out.png', dpi=DPI, facecolor='white')
